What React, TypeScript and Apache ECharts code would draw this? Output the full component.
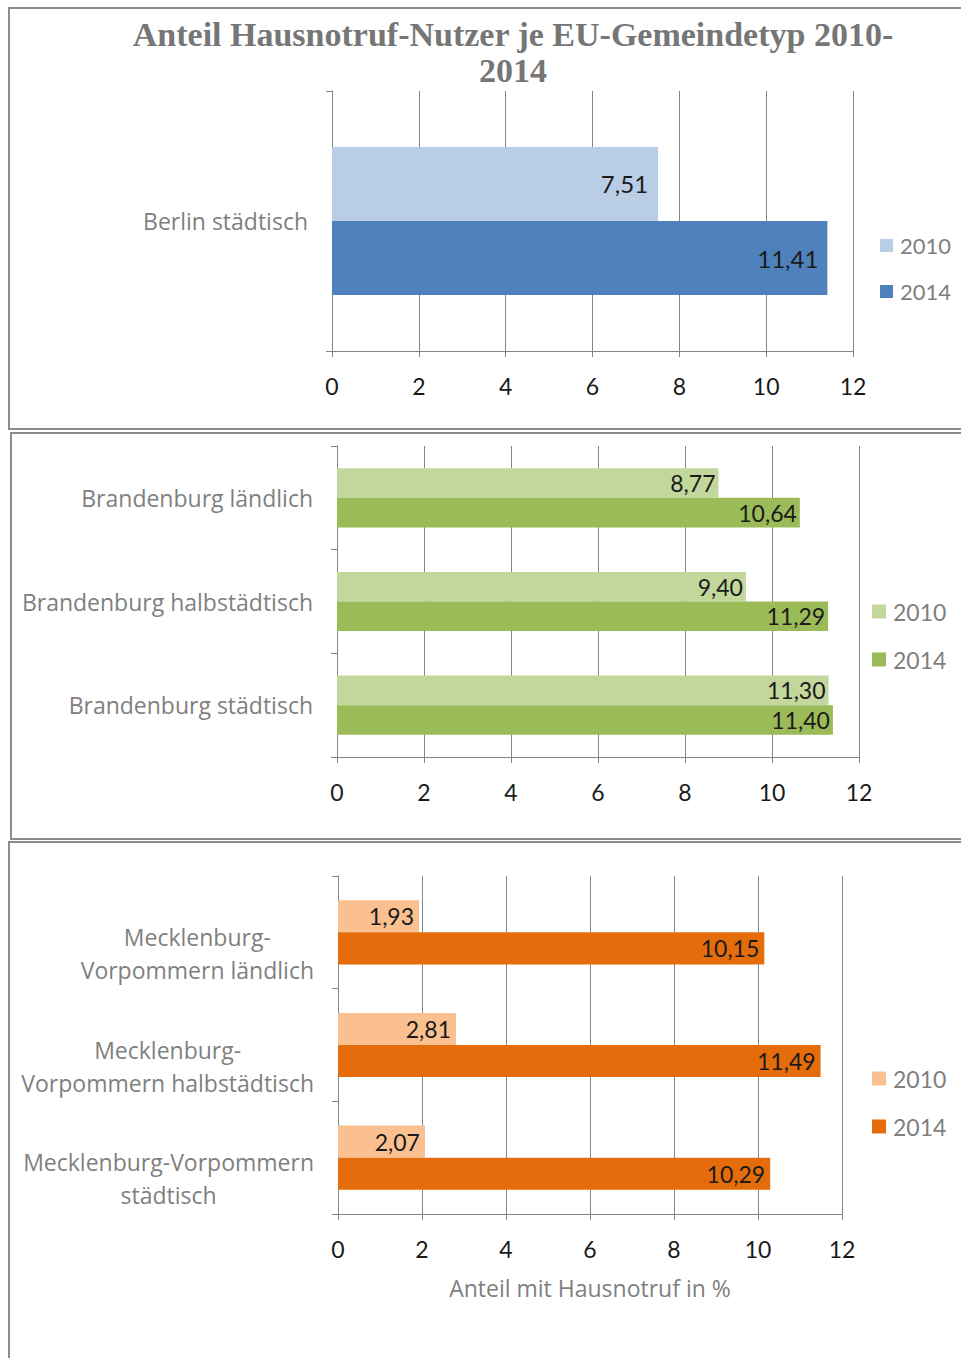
import React, { useEffect, useRef } from "react";
import * as echarts from "echarts";

const TITLE = "Anteil Hausnotruf-Nutzer je EU-Gemeindetyp 2010-\n2014";
const AXIS_NAME = "Anteil mit Hausnotruf in %";
const YEARS = ["2010", "2014"];
const X_TICKS = [0, 2, 4, 6, 8, 10, 12];

const berlinCats = ["Berlin städtisch"];
const berlin2010 = [7.51];
const berlin2014 = [11.41];

const brbCats = ["Brandenburg ländlich", "Brandenburg halbstädtisch", "Brandenburg städtisch"];
const brb2010 = [8.77, 9.4, 11.3];
const brb2014 = [10.64, 11.29, 11.4];

const mvCats = [
  "Mecklenburg-\nVorpommern ländlich",
  "Mecklenburg-\nVorpommern halbstädtisch",
  "Mecklenburg-Vorpommern\nstädtisch",
];
const mv2010 = [1.93, 2.81, 2.07];
const mv2014 = [10.15, 11.49, 10.29];

const SANS = "Lato";
const SANS_W = "Open Sans";
const GRAY = "#7f7f7f";
const LINE = "#868686";
const DARK = "#1a1a1a";

const fmt = (v: number) => v.toFixed(2).replace(".", ",");

export default function App() {
  const ref = useRef<HTMLDivElement>(null);
  useEffect(() => {
    if (!ref.current) return;
    const chart = echarts.init(ref.current, undefined, { renderer: "svg" });

    const panels = [
      {
        cats: berlinCats, d10: berlin2010, d14: berlin2014,
        colors: ["#b9cde5", "#4f81bd"],
        grid: { left: 332, top: 91, width: 521, height: 260 },
        legend: { left: 880, top: 234, gap: 23, icon: 13, text: 22 },
        labelDist: [10, 9],
        labelSize: 24,
        catPad: [0, 0, 0, 0],
      },
      {
        cats: brbCats, d10: brb2010, d14: brb2014,
        colors: ["#c3d69b", "#9bbb59"],
        grid: { left: 337, top: 446, width: 522, height: 311 },
        legend: { left: 872, top: 600, gap: 25, icon: 14, text: 23 },
        labelDist: [3, 3],
        labelSize: 23,
        catPad: [0, 0, 0, 0],
      },
      {
        cats: mvCats, d10: mv2010, d14: mv2014,
        colors: ["#fac090", "#e46c0a"],
        grid: { left: 338, top: 876, width: 504, height: 338 },
        legend: { left: 872, top: 1067, gap: 25, icon: 14, text: 23 },
        labelDist: [5, 5],
        labelSize: 23,
        catPad: [42, 0, 0, 0],
      },
    ];

    const grid: any[] = [];
    const xAxis: any[] = [];
    const yAxis: any[] = [];
    const legend: any[] = [];
    const series: any[] = [];

    panels.forEach((p, i) => {
      grid.push({ ...p.grid, containLabel: false });
      xAxis.push({
        type: "value",
        gridIndex: i,
        min: X_TICKS[0],
        max: X_TICKS[X_TICKS.length - 1],
        interval: 2,
        axisLine: { show: true, lineStyle: { color: LINE, width: 1 } },
        axisTick: { show: true, length: 6, lineStyle: { color: LINE } },
        splitLine: { show: true, lineStyle: { color: LINE, width: 1 } },
        axisLabel: { color: DARK, fontSize: 23, fontFamily: SANS, margin: 23 },
        name: i === 2 ? AXIS_NAME : "",
        nameLocation: "middle",
        nameGap: 62,
        nameTextStyle: { color: GRAY, fontSize: 23, fontFamily: SANS_W },
      });
      yAxis.push({
        type: "category",
        gridIndex: i,
        data: p.cats,
        inverse: true,
        axisLine: { show: true, lineStyle: { color: LINE, width: 1 } },
        axisTick: { show: true, length: 6, lineStyle: { color: LINE } },
        splitLine: { show: false },
        axisLabel: {
          color: GRAY,
          fontSize: 23,
          fontFamily: SANS_W,
          margin: 24,
          align: "right",
          padding: p.catPad,
          formatter: (v: string) => v.split("\n").map((s) => `{c|${s}}`).join("\n"),
          rich: { c: { align: "center", color: GRAY, fontSize: 23, fontFamily: SANS_W, lineHeight: 33 } },
        },
      });
      legend.push({
        orient: "vertical",
        left: p.legend.left,
        top: p.legend.top,
        padding: 0,
        itemWidth: p.legend.icon,
        itemHeight: p.legend.icon,
        itemGap: p.legend.gap,
        icon: "rect",
        selectedMode: false,
        textStyle: { color: GRAY, fontSize: p.legend.text, fontFamily: SANS, lineHeight: 23, padding: [0, 0, 0, 2] },
        data: YEARS.map((y, k) => ({ name: y, itemStyle: { color: p.colors[k] } })),
      });
      [p.d10, p.d14].forEach((d, k) => {
        series.push({
          type: "bar",
          name: YEARS[k],
          xAxisIndex: i,
          yAxisIndex: i,
          data: d,
          barGap: "0%",
          barCategoryGap: "43%",
          itemStyle: { color: p.colors[k] },
          label: {
            show: true,
            position: "insideRight",
            distance: p.labelDist[k],
            color: DARK,
            fontSize: p.labelSize,
            fontFamily: SANS,
            formatter: (pr: any) => fmt(pr.value),
          },
        });
      });
    });

    chart.setOption({
      animation: false,
      backgroundColor: "#ffffff",
      title: {
        text: TITLE,
        left: 513,
        top: 16,
        padding: 0,
        textAlign: "center",
        textStyle: {
          color: "#767676",
          fontSize: 34,
          fontWeight: "bold",
          fontFamily: "Liberation Serif",
          lineHeight: 36,
        },
      },
      grid,
      xAxis,
      yAxis,
      legend,
      series,
      graphic: [
        { type: "rect", shape: { x: 9, y: 8, width: 970, height: 421 }, style: { fill: "none", stroke: "#8c8c8c", lineWidth: 2 } },
        { type: "rect", shape: { x: 11, y: 433, width: 970, height: 406 }, style: { fill: "none", stroke: "#8c8c8c", lineWidth: 2 } },
        { type: "rect", shape: { x: 9, y: 842, width: 970, height: 540 }, style: { fill: "none", stroke: "#8c8c8c", lineWidth: 2 } },
      ],
    });
    return () => chart.dispose();
  }, []);
  return (
    <div
      ref={ref}
      style={{ position: "absolute", left: 0, top: 0, width: 961, height: 1358 }}
    />
  );
}
